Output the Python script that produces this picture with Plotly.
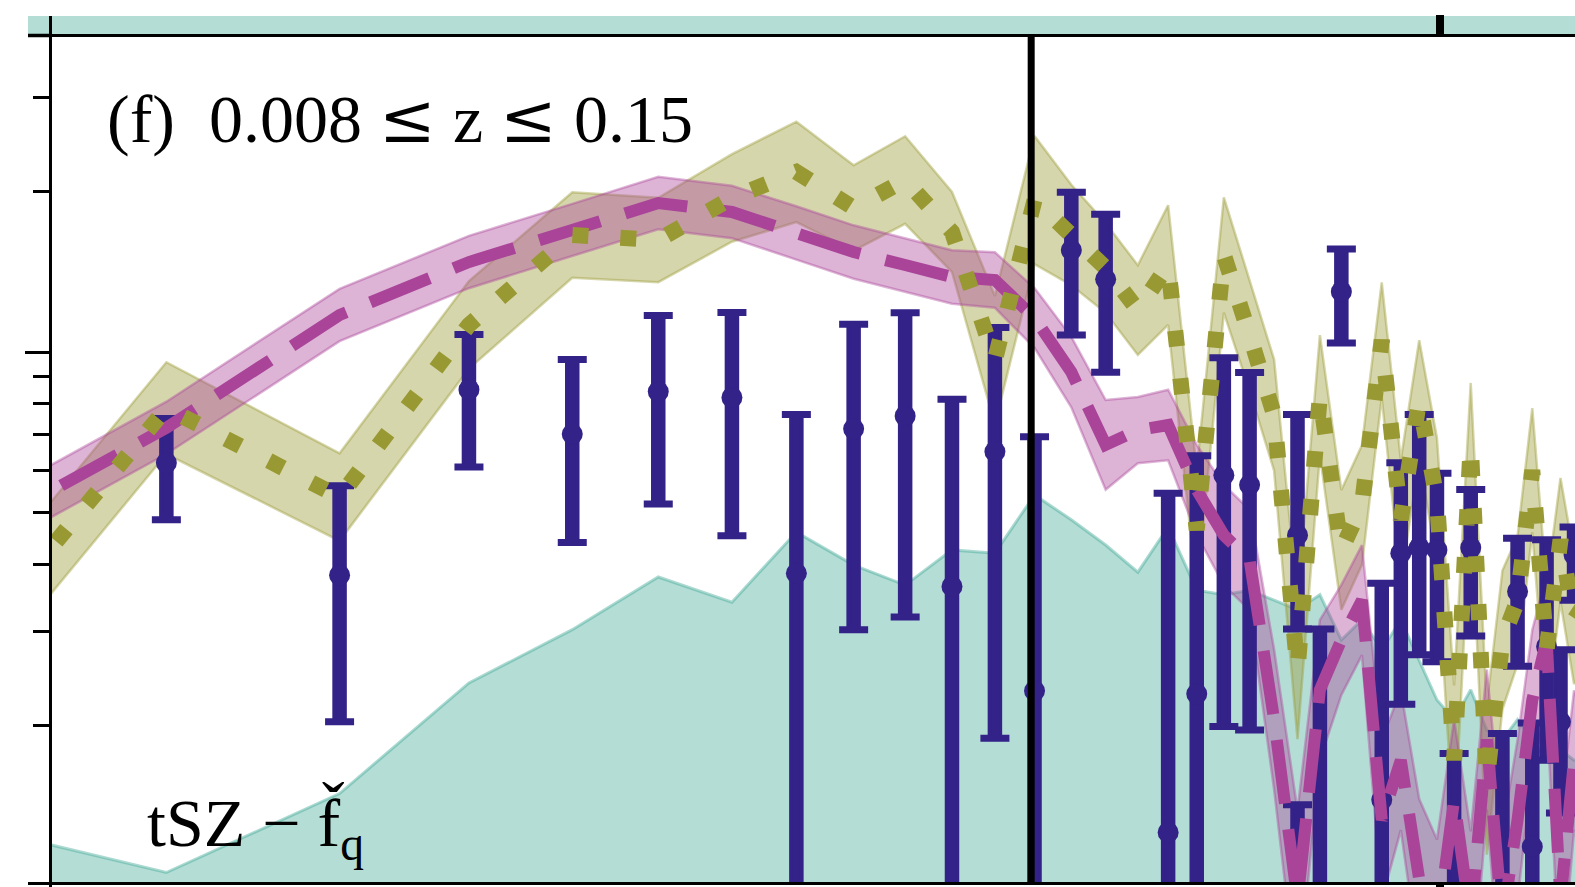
import plotly.graph_objects as go

# ---------------------------------------------------------------------------
# Multipole bin centres (bins of width 33.7 in ell)
ell_bins = [50.55, 84.25, 117.95, 151.65, 185.35, 219.05, 252.75, 286.45, 320.15,
            353.85, 387.55, 421.25, 454.95, 488.65, 522.35, 556.05, 589.75, 623.45,
            657.15, 690.85, 724.55, 758.25, 791.95, 825.65, 859.35, 893.05, 926.75,
            960.45, 994.15, 1027.85, 1061.55, 1095.25, 1128.95, 1162.65, 1196.35,
            1230.05, 1263.75, 1297.45, 1331.15]

# Dotted model (olive): central value and half-width of its band in dex
model_dot = [0.199, 0.785, 0.535, 1.124, 1.656, 1.621, 1.943, 2.174, 1.861, 2.099,
             1.678, 0.966, 1.926, 1.656, 1.437, 1.198, 1.455, 0.464, 1.519, 1.076,
             0.762, 0.254, 0.831, 0.426, 0.517, 1.053, 0.485, 0.813, 0.528, 0.172,
             0.670, 0.158, 0.289, 0.343, 0.601, 0.277, 0.445, 0.315, 0.343]
model_dot_dex = [0.086, 0.086, 0.082, 0.082, 0.080, 0.079, 0.082, 0.094, 0.080, 0.082,
                 0.075, 0.120, 0.120, 0.094, 0.084, 0.084, 0.112, 0.112, 0.108, 0.104,
                 0.104, 0.130, 0.112, 0.112, 0.112, 0.108, 0.112, 0.112, 0.116, 0.140,
                 0.116, 0.140, 0.130, 0.120, 0.116, 0.120, 0.116, 0.120, 0.120]

# Dashed model (rose): central value and half-width of its band in dex
model_dash = [0.387, 0.721, 1.173, 1.474, 1.692, 1.901, 1.829, 1.671, 1.539, 1.455,
              1.382, 1.364, 1.158, 0.917, 0.670, 0.714, 0.730, 0.552, 0.454, 0.408,
              0.205, 0.094, 0.233, 0.289, 0.343, 0.133, 0.172, 0.103, 0.083, 0.145,
              0.086, 0.188, 0.086, 0.133, 0.223, 0.289, 0.094, 0.172, 0.145]
model_dash_dex = [0.049, 0.049, 0.049, 0.049, 0.049, 0.049, 0.049, 0.050, 0.050, 0.050,
                  0.050, 0.052, 0.056, 0.066, 0.084, 0.062, 0.066, 0.084, 0.094, 0.094,
                  0.131, 0.168, 0.131, 0.103, 0.103, 0.150, 0.131, 0.150, 0.168, 0.150,
                  0.168, 0.131, 0.168, 0.150, 0.131, 0.122, 0.168, 0.131, 0.131]

# tSZ - f_q contribution (filled area)
tsz_fq = [0.139, 0.106, 0.149, 0.240, 0.302, 0.379, 0.340, 0.460, 0.399, 0.366,
          0.426, 0.420, 0.540, 0.485, 0.435, 0.387, 0.470, 0.358, 0.351, 0.358,
          0.343, 0.329, 0.351, 0.289, 0.315, 0.277, 0.315, 0.265, 0.223, 0.205,
          0.233, 0.196, 0.188, 0.205, 0.188, 0.172, 0.180, 0.172, 0.172]

# Measured band powers with asymmetric errors
pts_ell = [84.25, 117.95, 151.65, 185.35, 219.05, 252.75, 286.45, 320.15, 353.85,
           387.55, 421.25, 454.95, 488.65, 522.35, 589.75, 623.45, 657.15, 690.85,
           758.25, 758.25, 791.95, 825.65, 893.05, 926.75, 960.45, 994.15, 1027.85,
           1061.55, 1128.95, 1162.65, 1196.35, 1230.05, 1263.75, 1297.45]
pts_val = [0.620, 0.382, 0.850, 0.702, 0.843, 0.822, 0.385, 0.718, 0.759,
           0.364, 0.651, 0.232, 1.552, 1.368, 0.126, 0.229, 0.588, 0.564,
           0.454, 0.070, 0.070, 1.297, 0.145, 0.420, 0.430, 0.426, 0.070,
           0.430, 0.070, 0.356, 0.1185, 0.281, 0.203, 0.417]
pts_hi = [0.751, 0.562, 1.078, 0.968, 1.171, 1.186, 0.764, 1.127, 1.185,
          0.816, 1.111, 0.694, 1.991, 1.811, 0.544, 0.639, 0.976, 0.915,
          0.764, 0.142, 0.303, 1.559, 0.369, 0.620, 0.764, 0.593, 0.177,
          0.553, 0.193, 0.448, 0.202, 0.445, 0.277, 0.470]
pts_lo = [0.485, 0.203, 0.609, 0.440, 0.519, 0.453, 0.040, 0.302, 0.319,
          0.040, 0.189, 0.040, 1.076, 0.916, 0.030, 0.040, 0.199, 0.196,
          0.303, 0.020, 0.020, 1.040, 0.040, 0.219, 0.271, 0.263, 0.020,
          0.294, 0.020, 0.258, 0.040, 0.172, 0.137, 0.343]

ELL_CUT = 452.0          # vertical marker
Y_MAJOR = [1.0]
Y_MINOR = [0.2, 0.3, 0.4, 0.5, 0.6, 0.7, 0.8, 0.9, 2.0, 3.0]
X_TICKS = [1000.0]

NAVY = "#332288"
ROSE = "#AA4499"
OLIVE = "#999933"

SERIF = "Liberation Serif"


def band(center, dex):
    up = [c * 10 ** d for c, d in zip(center, dex)]
    lo = [c / 10 ** d for c, d in zip(center, dex)]
    return up + lo[::-1]


fig = go.Figure()

# filled tSZ - f_q area
fig.add_trace(go.Scatter(
    x=ell_bins + ell_bins[::-1], y=tsz_fq + [0.01] * len(ell_bins),
    mode="lines", fill="toself", fillcolor="rgba(68,170,153,0.40)",
    line=dict(color="rgba(68,170,153,0.45)", width=3), hoverinfo="skip"))

# model uncertainty bands
fig.add_trace(go.Scatter(
    x=ell_bins + ell_bins[::-1], y=band(model_dot, model_dot_dex),
    mode="lines", fill="toself", fillcolor="rgba(153,153,51,0.40)",
    line=dict(color="rgba(153,153,51,0.40)", width=2.5), hoverinfo="skip"))
fig.add_trace(go.Scatter(
    x=ell_bins + ell_bins[::-1], y=band(model_dash, model_dash_dex),
    mode="lines", fill="toself", fillcolor="rgba(170,68,153,0.40)",
    line=dict(color="rgba(170,68,153,0.40)", width=2.5), hoverinfo="skip"))

# data: thick vertical error bars
bx, by = [], []
for e, lo, hi in zip(pts_ell, pts_lo, pts_hi):
    bx += [e, e, None]
    by += [lo, hi, None]
fig.add_trace(go.Scatter(x=bx, y=by, mode="lines",
                         line=dict(color=NAVY, width=14.5), hoverinfo="skip"))

# data: caps and points
fig.add_trace(go.Scatter(
    x=pts_ell, y=pts_val, mode="markers",
    marker=dict(symbol="circle", size=21, color=NAVY, line=dict(width=0)),
    error_y=dict(type="data", symmetric=False,
                 array=[h - v for h, v in zip(pts_hi, pts_val)],
                 arrayminus=[v - l for v, l in zip(pts_val, pts_lo)],
                 color=NAVY, thickness=7, width=14.5),
    hoverinfo="skip"))

# model curves
fig.add_trace(go.Scatter(x=ell_bins, y=model_dash, mode="lines",
                         line=dict(color=ROSE, width=12, dash="64px,26px"),
                         hoverinfo="skip"))
fig.add_trace(go.Scatter(x=ell_bins, y=model_dot, mode="lines",
                         line=dict(color=OLIVE, width=16, dash="16px,32px"),
                         hoverinfo="skip"))

PLOT_W, PLOT_H = 1523.0, 845.0

shapes = [
    # fill of the panel above, just visible over the frame
    dict(type="rect", xref="paper", yref="paper", layer="below",
         x0=-24 / PLOT_W, x1=1.0, y0=1 + 2 / PLOT_H, y1=1 + 21 / PLOT_H,
         fillcolor="rgba(68,170,153,0.40)", line=dict(width=0)),
    # frame extensions
    dict(type="line", xref="paper", yref="paper", x0=-24 / PLOT_W, x1=0,
         y0=1 + 1.5 / PLOT_H, y1=1 + 1.5 / PLOT_H, line=dict(color="black", width=3.5)),
    dict(type="line", xref="paper", yref="paper", x0=-24 / PLOT_W, x1=0,
         y0=-1.5 / PLOT_H, y1=-1.5 / PLOT_H, line=dict(color="black", width=3)),
    dict(type="line", xref="paper", yref="paper", x0=-1.5 / PLOT_W, x1=-1.5 / PLOT_W,
         y0=1, y1=1 + 21 / PLOT_H, line=dict(color="black", width=3)),
    dict(type="line", xref="paper", yref="paper", x0=-1.5 / PLOT_W, x1=-1.5 / PLOT_W,
         y0=-8 / PLOT_H, y1=0, line=dict(color="black", width=3)),
    # vertical marker
    dict(type="line", xref="x", yref="paper", x0=ELL_CUT, x1=ELL_CUT, y0=0, y1=1,
         layer="above", line=dict(color="black", width=7)),
]

LE = "<span style=\"font-family:'DejaVu Serif'\">\u2264</span>"
annotations = [
    dict(text="(f)\u00a0\u00a00.008\u00a0" + LE + "\u00a0z\u00a0" + LE + "\u00a00.15",
         xref="paper", yref="paper",
         x=53 / PLOT_W, y=(882 - 160) / PLOT_H, xanchor="left", yanchor="bottom",
         showarrow=False, font=dict(family=SERIF, size=68, color="black")),
    dict(text="tSZ \u2212 f\u030c<sub>q</sub>", xref="paper", yref="paper",
         x=93 / PLOT_W, y=(882 - 872) / PLOT_H, xanchor="left", yanchor="bottom",
         showarrow=False, font=dict(family=SERIF, size=68, color="black")),
]

fig.update_layout(
    width=1575, height=887,
    margin=dict(l=52, r=0, t=37, b=5, pad=0, autoexpand=False),
    paper_bgcolor="white", plot_bgcolor="white",
    showlegend=False,
    shapes=shapes, annotations=annotations,
    xaxis=dict(type="log", range=[1.8291, 3.1139], showgrid=False, zeroline=False,
               automargin=False,
               showline=True, linecolor="black", linewidth=3, mirror="ticks",
               ticks="outside", tickmode="array", tickvals=X_TICKS, ticklen=19,
               tickwidth=8, tickcolor="black", showticklabels=False),
    yaxis=dict(type="log", range=[-0.9925, 0.5899], showgrid=False, zeroline=False,
               automargin=False,
               showline=True, linecolor="black", linewidth=3, mirror=False,
               ticks="outside", tickmode="array", tickvals=Y_MAJOR, ticklen=24,
               tickwidth=3, tickcolor="black", showticklabels=False,
               minor=dict(tickmode="array", tickvals=Y_MINOR, ticks="outside",
                          ticklen=16, tickwidth=3, tickcolor="black", showgrid=False)),
)

fig.write_html("out.html")
